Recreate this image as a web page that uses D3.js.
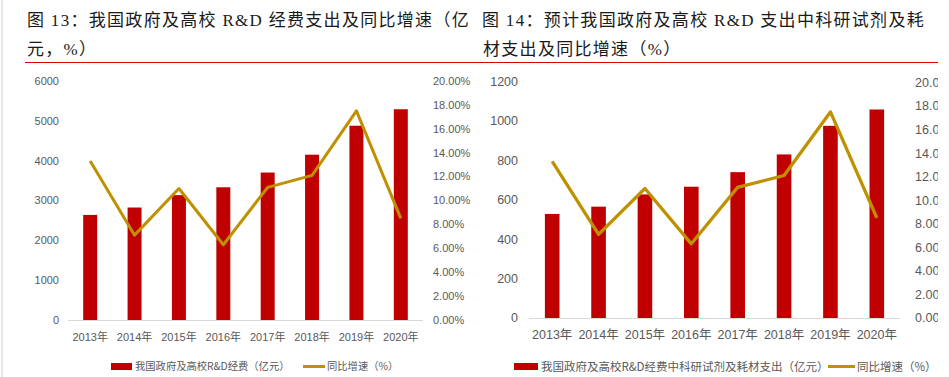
<!DOCTYPE html>
<html>
<head>
<meta charset="utf-8">
<script src="https://cdn.jsdelivr.net/npm/d3@7"></script>
<style>
  body { margin: 0; background: #fff; }
  svg { display: block; }
  .tick-label { font-family: "Liberation Sans Narrow", "Liberation Sans", Arial, "Noto Sans CJK SC", sans-serif; fill: #595959; }
  .legend-label { font-family: "Noto Sans CJK SC", sans-serif; fill: #595959; }
  .title { font-family: "Liberation Serif", "Noto Sans CJK SC", serif; font-size: 17px; fill: #1a1a1a; letter-spacing: 1.3px; }
</style>
</head>
<body>
<div class="container"></div>
<script>
// chart data
var years = ["2013年", "2014年", "2015年", "2016年", "2017年", "2018年", "2019年", "2020年"];
var govRD = [2638, 2824, 3135, 3332, 3702, 4150, 4877, 5291];       // 亿元
var reagentRD = [528, 565, 627, 666, 740, 830, 975, 1058];          // 亿元
var growth = [13.3, 7.1, 11.0, 6.3, 11.1, 12.1, 17.5, 8.5];         // %
var leftTicks1 = [0, 1000, 2000, 3000, 4000, 5000, 6000];
var leftTicks2 = [0, 200, 400, 600, 800, 1000, 1200];
var pctTicks = [0, 2, 4, 6, 8, 10, 12, 14, 16, 18, 20];

var width = 949,
    height = 377;

var barColor = "#C00000",
    lineColor = "#BF9000";

var svg = d3.select(".container")
    .append("svg")
    .attr("width", width)
    .attr("height", height);

svg.append("rect").attr("width", width).attr("height", height).attr("fill", "#fff");

// page border on the left
svg.append("line")
    .attr("x1", 2).attr("x2", 2).attr("y1", 0).attr("y2", height)
    .attr("stroke", "#d0d0d0").attr("stroke-width", 1);

// titles
var titles = [
    { x: 27, y: 26, text: "图 13：我国政府及高校 R&D 经费支出及同比增速（亿" },
    { x: 27, y: 55, text: "元，%）" },
    { x: 482, y: 26, text: "图 14：预计我国政府及高校 R&D 支出中科研试剂及耗" },
    { x: 483, y: 55, text: "材支出及同比增速（%）" }
];
svg.selectAll("text.title")
    .data(titles)
    .enter()
    .append("text")
    .attr("class", "title")
    .attr("x", function(d) { return d.x; })
    .attr("y", function(d) { return d.y; })
    .text(function(d) { return d.text; });

svg.append("line")
    .attr("x1", 25).attr("x2", 938).attr("y1", 62.5).attr("y2", 62.5)
    .attr("stroke", "#e00000").attr("stroke-width", 1.2);

// the right chart is cut off at the page edge, as in the source
svg.append("clipPath").attr("id", "clip")
    .append("rect").attr("x", 0).attr("y", 0).attr("width", 938).attr("height", height);

function drawChart(opts) {
    var g = svg.append("g").attr("clip-path", "url(#clip)");

    var x = d3.scaleBand()
        .domain(years)
        .range([opts.x0, opts.x1])
        .paddingInner(0.685)
        .paddingOuter(0.3425);

    var y = d3.scaleLinear().domain([0, opts.max]).range([opts.y0, opts.yTop]);
    var y2 = d3.scaleLinear().domain([0, 20]).range([opts.y0, opts.yTop2]);

    // bars
    g.selectAll("rect.bar")
        .data(opts.values)
        .enter()
        .append("rect")
        .attr("class", "bar")
        .attr("x", function(d, i) { return x(years[i]); })
        .attr("y", function(d) { return y(d); })
        .attr("width", x.bandwidth())
        .attr("height", function(d) { return y(0) - y(d); })
        .attr("fill", barColor);

    // baseline
    g.append("line")
        .attr("x1", opts.x0).attr("x2", opts.x1)
        .attr("y1", y(0) + 0.5).attr("y2", y(0) + 0.5)
        .attr("stroke", "#d9d9d9").attr("stroke-width", 1);

    // growth line
    var line = d3.line()
        .x(function(d, i) { return x(years[i]) + x.bandwidth() / 2; })
        .y(function(d) { return y2(d); });

    g.append("path")
        .datum(growth)
        .attr("d", line)
        .attr("fill", "none")
        .attr("stroke", lineColor)
        .attr("stroke-width", opts.lineW)
        .attr("stroke-linejoin", "round");

    // left axis labels
    g.selectAll("text.yl")
        .data(opts.ticks)
        .enter()
        .append("text")
        .attr("class", "tick-label")
        .style("font-size", opts.tickSize + "px")
        .attr("x", opts.labelLeft)
        .attr("y", function(d) { return y(d); })
        .attr("dy", "0.35em")
        .attr("text-anchor", "end")
        .text(function(d) { return d; });

    // right axis labels
    g.selectAll("text.yr")
        .data(pctTicks)
        .enter()
        .append("text")
        .attr("class", "tick-label")
        .style("font-size", opts.tickSize + "px")
        .attr("x", opts.labelRight)
        .attr("y", function(d) { return y2(d); })
        .attr("dy", "0.35em")
        .text(function(d) { return d.toFixed(2) + "%"; });

    // category labels
    g.selectAll("text.xl")
        .data(years)
        .enter()
        .append("text")
        .attr("class", "tick-label")
        .style("font-size", opts.tickSize + "px")
        .attr("x", function(d) { return x(d) + x.bandwidth() / 2; })
        .attr("y", opts.y0 + 17)
        .attr("dy", "0.35em")
        .attr("text-anchor", "middle")
        .text(function(d) { return d; });

    // legend
    var ly = 366.5;
    g.append("rect")
        .attr("x", opts.leg[0]).attr("y", ly - 3.5)
        .attr("width", opts.leg[1] - opts.leg[0]).attr("height", 7)
        .attr("fill", barColor);
    g.append("text")
        .attr("class", "legend-label")
        .style("font-size", opts.legSize + "px")
        .attr("x", opts.leg[1] + 3).attr("y", ly)
        .attr("dy", "0.35em")
        .text(opts.barName);
    g.append("line")
        .attr("x1", opts.leg[2]).attr("x2", opts.leg[3])
        .attr("y1", ly).attr("y2", ly)
        .attr("stroke", lineColor).attr("stroke-width", 3);
    g.append("text")
        .attr("class", "legend-label")
        .style("font-size", opts.legSize + "px")
        .attr("x", opts.leg[3] + 2).attr("y", ly)
        .attr("dy", "0.35em")
        .text("同比增速（%）");
}

drawChart({
    x0: 68, x1: 423, y0: 320, yTop: 81, yTop2: 81,
    max: 6000, values: govRD, ticks: leftTicks1,
    labelLeft: 59, labelRight: 433,
    tickSize: 11, legSize: 10.3, lineW: 3,
    leg: [111, 132, 303, 325],
    barName: "我国政府及高校R&D经费（亿元）"
});

drawChart({
    x0: 529, x1: 900, y0: 318, yTop: 81.5, yTop2: 82.5,
    max: 1200, values: reagentRD, ticks: leftTicks2,
    labelLeft: 518, labelRight: 915,
    tickSize: 12.5, legSize: 11.5, lineW: 3.3,
    leg: [514, 538, 828, 855],
    barName: "我国政府及高校R&D经费中科研试剂及耗材支出（亿元）"
});
</script>
</body>
</html>
